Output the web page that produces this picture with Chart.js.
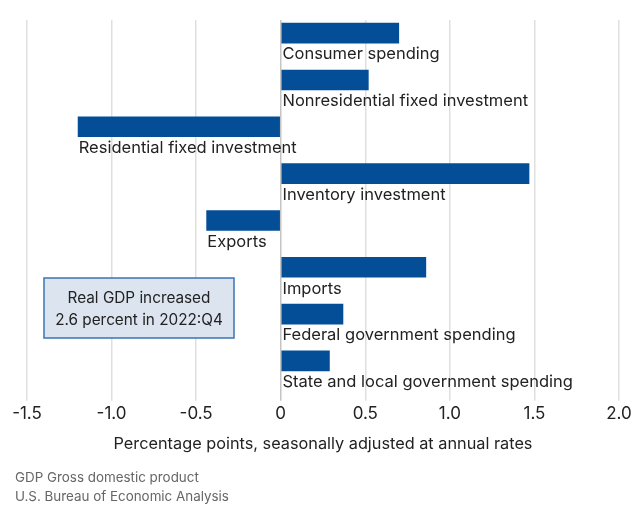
<!DOCTYPE html>
<html>
<head>
<meta charset="utf-8">
<script src="https://cdn.jsdelivr.net/npm/chart.js@4.4.1/dist/chart.umd.min.js"></script>
<style>
  html, body { margin: 0; padding: 0; background: #ffffff; }
  #wrap { width: 642px; height: 506px; }
</style>
</head>
<body>
<div id="wrap"><canvas id="chart" width="642" height="506"></canvas></div>
<script>
// Contributions to percent change in real GDP, 2022:Q4
const categories = [
  'Consumer spending',
  'Nonresidential fixed investment',
  'Residential fixed investment',
  'Inventory investment',
  'Exports',
  'Imports',
  'Federal government spending',
  'State and local government spending'
];
const contributions = [0.70, 0.52, -1.20, 1.47, -0.44, 0.86, 0.37, 0.29];
const tickValues = [-1.5, -1.0, -0.5, 0, 0.5, 1.0, 1.5, 2.0];
const tickLabels = ['-1.5', '-1.0', '-0.5', '0', '0.5', '1.0', '1.5', '2.0'];
const axisTitle = 'Percentage points, seasonally adjusted at annual rates';
const noteLines = ['Real GDP increased', '2.6 percent in 2022:Q4'];
const footnotes = ['GDP Gross domestic product', 'U.S. Bureau of Economic Analysis'];

const FONT = 'Inter, "Open Sans", sans-serif';
const BAR_COLOR = '#044e98';
const TEXT_COLOR = '#222222';

// Category names sit just under each bar, starting at its left end
const barCaptions = {
  id: 'barCaptions',
  afterDatasetsDraw(chart) {
    const ctx = chart.ctx;
    const meta = chart.getDatasetMeta(0);
    ctx.save();
    ctx.font = '16.5px ' + FONT;
    ctx.fillStyle = TEXT_COLOR;
    ctx.textAlign = 'left';
    ctx.textBaseline = 'alphabetic';
    meta.data.forEach((bar, i) => {
      const p = bar.getProps(['x', 'y', 'base', 'height'], true);
      const left = Math.min(p.x, p.base);
      ctx.fillText(categories[i], left + 1, p.y + p.height / 2 + 16);
    });
    ctx.restore();
  }
};

// Headline callout box on the left side of the plot
const headlineBox = {
  id: 'headlineBox',
  beforeDatasetsDraw(chart) {
    const ctx = chart.ctx;
    const area = chart.chartArea;
    const x = area.left + 17, y = area.top + 258, w = 190, h = 60;
    ctx.save();
    ctx.fillStyle = '#dbe4ef';
    ctx.fillRect(x, y, w, h);
    ctx.strokeStyle = '#3b74b6';
    ctx.lineWidth = 1.5;
    ctx.strokeRect(x, y, w, h);
    ctx.font = '15.3px ' + FONT;
    ctx.fillStyle = TEXT_COLOR;
    ctx.textAlign = 'center';
    ctx.textBaseline = 'middle';
    ctx.fillText(noteLines[0], x + w / 2, y + 20);
    ctx.fillText(noteLines[1], x + w / 2, y + 42);
    ctx.restore();
  }
};

// Source lines along the bottom edge
const sourceNotes = {
  id: 'sourceNotes',
  afterDraw(chart) {
    const ctx = chart.ctx;
    ctx.save();
    ctx.font = '13.4px ' + FONT;
    ctx.fillStyle = '#666666';
    ctx.textAlign = 'left';
    ctx.textBaseline = 'middle';
    ctx.fillText(footnotes[0], 15, 478);
    ctx.fillText(footnotes[1], 15, 497);
    ctx.restore();
  }
};

new Chart(document.getElementById('chart'), {
  type: 'bar',
  data: {
    labels: categories,
    datasets: [
      {
        label: 'Contribution',
        data: contributions,
        backgroundColor: BAR_COLOR,
        categoryPercentage: 0.88,
        barPercentage: 1.0
      },
      {
        // empty slot that leaves room for the caption under each bar
        label: 'Caption row',
        data: categories.map(() => null),
        backgroundColor: 'rgba(0,0,0,0)',
        categoryPercentage: 0.88,
        barPercentage: 1.0
      }
    ]
  },
  options: {
    indexAxis: 'y',
    responsive: false,
    animation: false,
    devicePixelRatio: 1,
    layout: { padding: { left: 27, right: 23, top: 20, bottom: 52.4 } },
    plugins: {
      legend: { display: false },
      tooltip: { enabled: false }
    },
    scales: {
      x: {
        type: 'linear',
        min: -1.5,
        max: 2.0,
        afterBuildTicks(scale) {
          scale.ticks = tickValues.map(v => ({ value: v }));
        },
        ticks: {
          autoSkip: false,
          maxRotation: 0,
          padding: 3,
          color: TEXT_COLOR,
          font: { family: FONT, size: 17 },
          callback: (value, index) => tickLabels[index]
        },
        grid: {
          drawTicks: true,
          tickLength: 6,
          lineWidth: 1.5,
          color: ctx => (ctx.tick && ctx.tick.value === 0 ? '#c4c4c4' : '#dfdfdf')
        },
        border: { display: false },
        title: {
          display: true,
          text: axisTitle,
          color: TEXT_COLOR,
          font: { family: FONT, size: 16.3 },
          padding: { top: 7, bottom: 0 }
        }
      },
      y: {
        type: 'category',
        display: false
      }
    }
  },
  plugins: [barCaptions, headlineBox, sourceNotes]
});
</script>
</body>
</html>
